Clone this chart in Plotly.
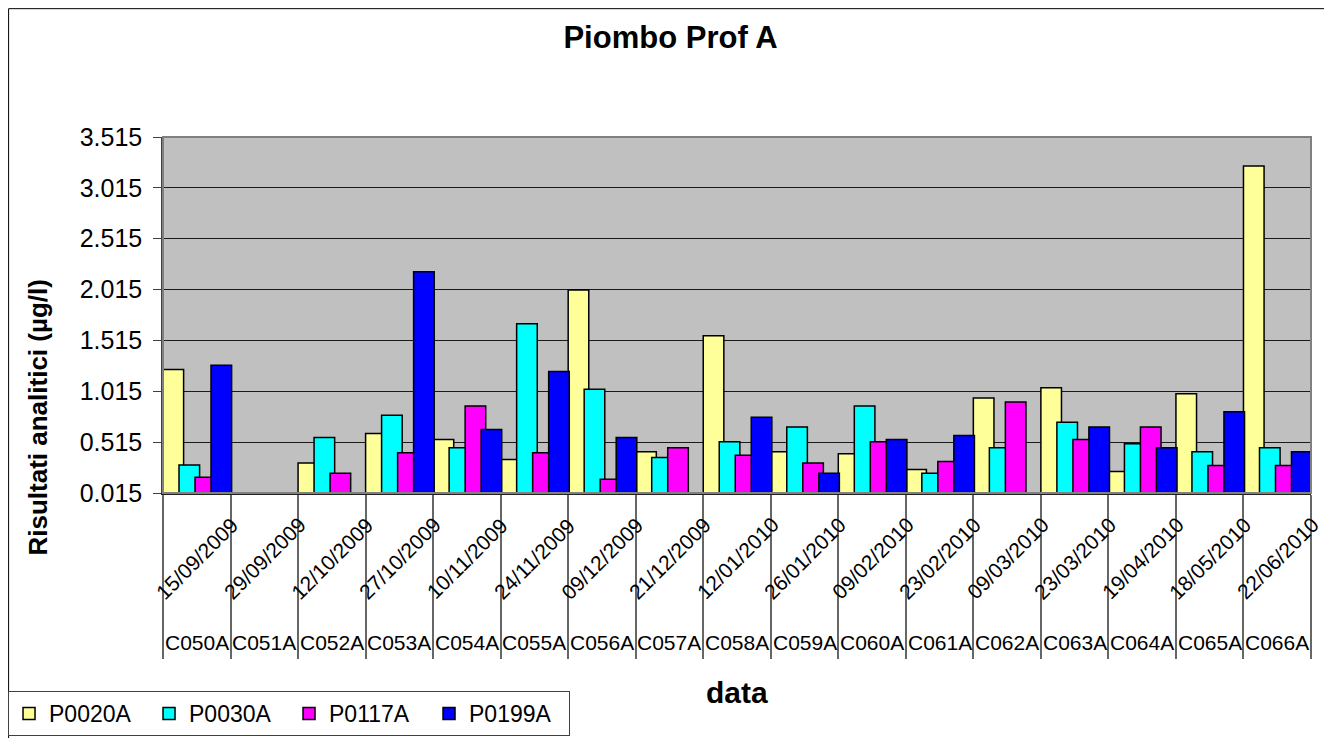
import plotly.graph_objects as go

# campaign codes and sampling dates (two-level x axis)
codes = ["C050A", "C051A", "C052A", "C053A", "C054A", "C055A", "C056A", "C057A", "C058A",
         "C059A", "C060A", "C061A", "C062A", "C063A", "C064A", "C065A", "C066A"]
dates = ["15/09/2009", "29/09/2009", "12/10/2009", "27/10/2009", "10/11/2009", "24/11/2009",
         "09/12/2009", "21/12/2009", "12/01/2010", "26/01/2010", "09/02/2010", "23/02/2010",
         "09/03/2010", "23/03/2010", "19/04/2010", "18/05/2010", "22/06/2010"]

# lead results (ug/l) per well
p0020a = [1.23, None, 0.31, 0.60, 0.54, 0.345, 2.01, 0.42, 1.56, 0.42, 0.40, 0.247, 0.95, 1.05, 0.227, 0.99, 3.23]
p0030a = [0.29, None, 0.56, 0.78, 0.46, 1.68, 1.035, 0.365, 0.52, 0.665, 0.87, 0.21, 0.46, 0.71, 0.50, 0.42, 0.46]
p0117a = [0.17, None, 0.21, 0.41, 0.87, 0.41, 0.15, 0.46, 0.385, 0.31, 0.52, 0.325, 0.91, 0.54, 0.665, 0.286, 0.286]
p0199a = [1.27, None, None, 2.19, 0.64, 1.21, 0.56, None, 0.76, 0.21, 0.54, 0.58, None, 0.665, 0.46, 0.815, 0.42]

series = [("P0020A", p0020a, "#FFFF99"),
          ("P0030A", p0030a, "#00FFFF"),
          ("P0117A", p0117a, "#FF00FF"),
          ("P0199A", p0199a, "#0000FF")]

y_ticks = [0.015, 0.515, 1.015, 1.515, 2.015, 2.515, 3.015, 3.515]

FONT = "Arial, Liberation Sans, sans-serif"

fig = go.Figure()

# Excel style overlapping bars: each bar a bit wider than its step
bar_w = 0.305
step = 0.237
for i, (name, vals, col) in enumerate(series):
    fig.add_bar(x=codes, y=vals, name=name, width=bar_w, offset=-0.5 + i * step,
                marker=dict(color=col, line=dict(color="black", width=1.5)))

# date labels (rotated) and campaign codes under each category
for c, d in zip(codes, dates):
    fig.add_annotation(x=c, xref="x", y=0, yref="paper", yshift=-65, text=d,
                       textangle=-45, showarrow=False, xanchor="center", yanchor="middle",
                       font=dict(family=FONT, size=21, color="black"))
    fig.add_annotation(x=c, xref="x", y=0, yref="paper", yshift=-149, text=c,
                       showarrow=False, xanchor="center", yanchor="middle",
                       font=dict(family=FONT, size=21, color="black"))

# axis titles
fig.add_annotation(x=0.5, xref="paper", y=0, yref="paper", yshift=-199, text="<b>data</b>",
                   showarrow=False, xanchor="center", yanchor="middle",
                   font=dict(family=FONT, size=30, color="black"))
fig.add_annotation(x=0, xref="paper", xshift=-125, y=0.212, yref="paper",
                   text="<b>Risultati analitici (µg/l)</b>", textangle=-90,
                   showarrow=False, xanchor="center", yanchor="middle",
                   font=dict(family=FONT, size=26, color="black"))

# plot area border and outer chart frame
fig.add_shape(type="rect", xref="paper", yref="paper", x0=0, x1=1, y0=0, y1=1,
              line=dict(color="#808080", width=2), layer="above")
fig.add_shape(type="rect", xref="paper", yref="paper", x0=-0.1345, x1=1.0139, y0=-0.72, y1=1.3605,
              line=dict(color="black", width=1))

# page body adds an 8px offset, so the figure is 8px smaller than the window
fig.update_layout(
    width=1324, height=730,
    margin=dict(l=155, r=21, t=129, b=245, autoexpand=False),
    paper_bgcolor="white",
    plot_bgcolor="#C0C0C0",
    barmode="overlay",
    title=dict(text="<b>Piombo Prof A</b>", x=662.5 / 1324, xanchor="center",
               y=1 - 29 / 730, yanchor="middle",
               font=dict(family=FONT, size=31, color="black")),
    legend=dict(orientation="h", x=-0.135, xanchor="left", y=-0.556, yanchor="top",
                bgcolor="white", bordercolor="#404040", borderwidth=1,
                font=dict(family=FONT, size=23, color="black"), itemwidth=30,
                entrywidth=95, entrywidthmode="pixels"),
    showlegend=True,
)

fig.update_xaxes(type="category", categoryorder="array", categoryarray=codes,
                 range=[-0.5, len(codes) - 0.5],
                 showticklabels=False, tickson="boundaries", ticks="outside",
                 ticklen=164, tickwidth=1.5, tickcolor="#666666",
                 showline=True, linecolor="#202020", linewidth=2,
                 showgrid=False, zeroline=False)

fig.update_yaxes(range=[0.015, 3.515], tickmode="array", tickvals=y_ticks,
                 ticktext=[f"{v:.3f}" for v in y_ticks],
                 ticks="outside", ticklen=8, tickcolor="#404040", ticklabelstandoff=6,
                 tickfont=dict(family=FONT, size=25, color="black"),
                 showline=True, linecolor="#404040", linewidth=1.5,
                 showgrid=True, gridcolor="#1a1a1a", gridwidth=1, zeroline=False)

fig.write_html("out.html")
